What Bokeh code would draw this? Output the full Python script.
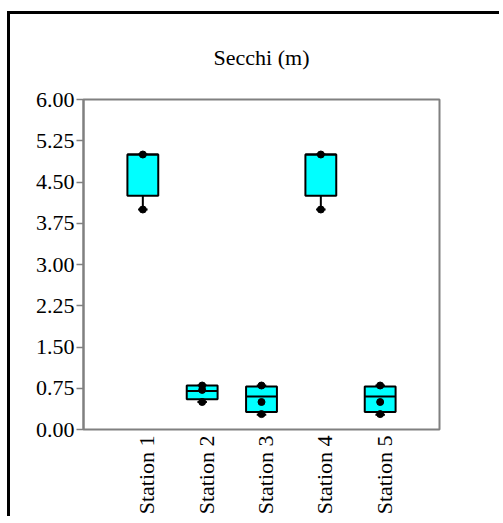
import math
from bokeh.plotting import figure
from bokeh.models import FixedTicker, NumeralTickFormatter, Range1d, ColumnDataSource
from bokeh.embed import file_html
from bokeh.resources import INLINE

# ---- data ----
stations = ["Station 1", "Station 2", "Station 3", "Station 4", "Station 5"]
mins = [4.0, 0.5, 0.27, 4.0, 0.27]
q1 = [4.25, 0.55, 0.32, 4.25, 0.32]
medians = [5.0, 0.7, 0.6, 5.0, 0.6]
q3 = [5.0, 0.8, 0.78, 5.0, 0.78]
maxs = [5.0, 0.8, 0.8, 5.0, 0.8]
point_station = ["Station 1", "Station 1", "Station 2", "Station 2", "Station 2",
                 "Station 3", "Station 3", "Station 3", "Station 4", "Station 4",
                 "Station 5", "Station 5", "Station 5"]
point_values = [5.0, 4.0, 0.8, 0.72, 0.5, 0.8, 0.5, 0.28, 5.0, 4.0, 0.8, 0.5, 0.28]
y_ticks = [0.0, 0.75, 1.5, 2.25, 3.0, 3.75, 4.5, 5.25, 6.0]

xpos = [i + 1 for i in range(len(stations))]
pos_of = {s: i + 1 for i, s in enumerate(stations)}
box_w = 0.52
cap_w = 0.16
label_shift = 0.07

src = ColumnDataSource(dict(x=xpos, mins=mins, q1=q1, med=medians, q3=q3, maxs=maxs,
                            xl=[x - box_w / 2 for x in xpos], xr=[x + box_w / 2 for x in xpos],
                            cl=[x - cap_w / 2 for x in xpos], cr=[x + cap_w / 2 for x in xpos]))
psrc = ColumnDataSource(dict(x=[pos_of[s] for s in point_station], y=point_values))

p = figure(width=492, height=505, output_backend="svg", toolbar_location=None,
           x_range=Range1d(0, len(stations) + 1), y_range=Range1d(0, 6),
           min_border_left=73, min_border_top=85, min_border_right=63, min_border_bottom=90)
p.styles = {"margin-left": "7px", "margin-top": "11px",
            "border-top": "3px solid black", "border-left": "3px solid black"}

p.title.text = "Secchi (m)"
p.title.align = "center"
p.title.vertical_align = "top"
p.title.text_font = "Liberation Serif"
p.title.text_font_style = "normal"
p.title.text_font_size = "22px"
p.title.text_color = "black"
p.title.standoff = 55

p.xgrid.visible = False
p.ygrid.visible = False
p.outline_line_color = "#808080"
p.outline_line_width = 2
p.background_fill_color = "white"
p.border_fill_color = "white"

# whiskers
p.segment(x0="x", y0="q3", x1="x", y1="maxs", source=src, line_color="black", line_width=2)
p.segment(x0="x", y0="q1", x1="x", y1="mins", source=src, line_color="black", line_width=2)
# caps
p.segment(x0="cl", y0="mins", x1="cr", y1="mins", source=src, line_color="black", line_width=2)
p.segment(x0="cl", y0="maxs", x1="cr", y1="maxs", source=src, line_color="black", line_width=2)
# boxes
p.vbar(x="x", width=box_w, bottom="q1", top="q3", source=src,
       fill_color="#00FFFF", line_color="black", line_width=2)
# medians
p.segment(x0="xl", y0="med", x1="xr", y1="med", source=src, line_color="black", line_width=2)
# points
p.scatter(x="x", y="y", source=psrc, size=7, fill_color="black", line_color="black")

# y axis
ya = p.yaxis[0]
ya.ticker = FixedTicker(ticks=y_ticks)
ya.formatter = NumeralTickFormatter(format="0.00")
ya.major_label_text_font = "Liberation Serif"
ya.major_label_text_font_size = "22px"
ya.major_label_text_color = "black"
ya.axis_line_color = "#808080"
ya.axis_line_width = 2
ya.major_tick_line_color = "#808080"
ya.major_tick_line_width = 1.5
ya.major_tick_out = 7
ya.major_tick_in = 0
ya.minor_tick_line_color = None
ya.major_label_standoff = 2

# x axis
label_ticks = [round(x + label_shift, 2) for x in xpos]
xa = p.xaxis[0]
xa.ticker = FixedTicker(ticks=label_ticks)
xa.major_label_overrides = {t: s for t, s in zip(label_ticks, stations)}
xa.major_label_orientation = math.pi / 2
xa.major_label_text_font = "Liberation Serif"
xa.major_label_text_font_size = "22px"
xa.major_label_text_color = "black"
xa.axis_line_color = None
xa.major_tick_line_color = None
xa.minor_tick_line_color = None
xa.major_label_standoff = 0

open("out.html", "w").write(file_html(p, INLINE))
